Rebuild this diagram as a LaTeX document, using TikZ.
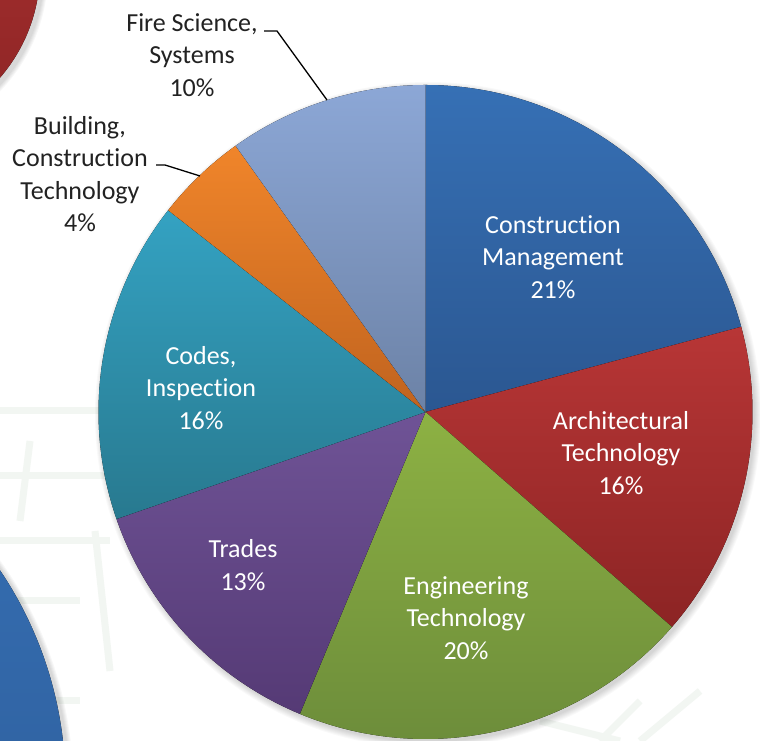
\documentclass[tikz,border=0pt]{standalone}
\usepackage{fontspec}
\setmainfont{Carlito}[Ligatures={NoCommon}]
\definecolor{cmT}{HTML}{3670B5}\definecolor{cmB}{HTML}{2B5791}
\definecolor{arT}{HTML}{B83636}\definecolor{arB}{HTML}{8C2424}
\definecolor{enT}{HTML}{8DB143}\definecolor{enB}{HTML}{6A8A3A}
\definecolor{trT}{HTML}{6F5396}\definecolor{trB}{HTML}{553A75}
\definecolor{coT}{HTML}{34A2C2}\definecolor{coB}{HTML}{28798F}
\definecolor{buT}{HTML}{F0852A}\definecolor{buB}{HTML}{C0631F}
\definecolor{fiT}{HTML}{8CA7D6}\definecolor{fiB}{HTML}{6C82A6}
\definecolor{gridc}{HTML}{F2F6F2}
\definecolor{txt}{HTML}{222222}
\tikzset{
  inlabel/.style={align=center,text=white,font=\fontsize{26}{32.5}\selectfont,inner sep=0pt},
  outlabel/.style={align=center,text=txt,font=\fontsize{26}{32.5}\selectfont,inner sep=0pt},
  leader/.style={draw=black,line width=1.3pt},
  gridline/.style={draw=gridc,line width=7pt}
}
\begin{document}
\begin{tikzpicture}[x=1pt,y=1pt]
\useasboundingbox (0,0) rectangle (760,741);
\fill[white] (0,0) rectangle (760,741);
\begin{scope}
\clip (0,0) rectangle (760,741);
% faint background grid
\draw[gridline] (0,330) -- (110,330);
\draw[gridline] (0,265) -- (110,265);
\draw[gridline] (0,200) -- (110,200);
\draw[gridline] (0,140) -- (80,140);
\draw[gridline] (0,40) -- (80,40);
\draw[gridline] (30,300) -- (20,220);
\draw[gridline] (95,210) -- (110,70);
\draw[gridline] (600,0) -- (640,40);
\draw[gridline] (640,0) -- (700,50);
\draw[gridline] (540,20) -- (620,0);
% decorative circles
\foreach \k in {1,...,5}{\fill[black,opacity=0.03] (-122,768) circle ({165+\k});}
\fill[top color=arT!95!black,bottom color=arB] (-125,771) circle (165);
\foreach \k in {1,...,5}{\fill[black,opacity=0.03] (-316,-47) circle ({384.5+\k});}
\fill[top color=cmT,bottom color=cmB] (-319,-44) circle (384.5);
% pie shadow
\foreach \k in {1,...,7}{\fill[black,opacity=0.025] (428,326) circle ({326+\k});}
\end{scope}
\coordinate (C) at (425.5,329);
% slices
\fill[top color=cmT,bottom color=cmB] (C) -- ++(90:327) arc[start angle=90,end angle=15.1,radius=327] -- cycle;
\fill[top color=arT,bottom color=arB] (C) -- ++(15.1:327) arc[start angle=15.1,end angle=-41.1,radius=327] -- cycle;
\fill[top color=enT,bottom color=enB] (C) -- ++(-41.1:327) arc[start angle=-41.1,end angle=-112.6,radius=327] -- cycle;
\fill[top color=trT,bottom color=trB] (C) -- ++(-112.6:327) arc[start angle=-112.6,end angle=-160.9,radius=327] -- cycle;
\fill[top color=coT,bottom color=coB] (C) -- ++(-160.9:327) arc[start angle=-160.9,end angle=-218.1,radius=327] -- cycle;
\fill[top color=buT,bottom color=buB] (C) -- ++(141.9:327) arc[start angle=141.9,end angle=125.5,radius=327] -- cycle;
\fill[top color=fiT,bottom color=fiB] (C) -- ++(125.5:327) arc[start angle=125.5,end angle=90,radius=327] -- cycle;
% inside labels
\node[inlabel] (cm) at (553,484) {Construction\\Management\\21\%};
\node[inlabel] (ar) at (621,288) {Architectural\\Technology\\16\%};
\node[inlabel] (en) at (466,123) {Engineering\\Technology\\20\%};
\node[inlabel] (tr) at (243,176) {Trades\\13\%};
\node[inlabel] (co) at (201,353) {Codes,\\Inspection\\16\%};
% outside labels
\node[outlabel] (fi) at (192,686) {Fire Science,\\Systems\\10\%};
\node[outlabel] (bu) at (80,567) {Building,\\Construction\\Technology\\4\%};
% leaders
\coordinate (fiA) at (264,710);
\coordinate (fiP) at (327,641);
\coordinate (buA) at (156,576);
\coordinate (buP) at (200,565);
\draw[leader] (fiA) -- ++(13,0) -- (fiP);
\draw[leader] (buA) -- ++(9,0) -- (buP);
\end{tikzpicture}
\end{document}
